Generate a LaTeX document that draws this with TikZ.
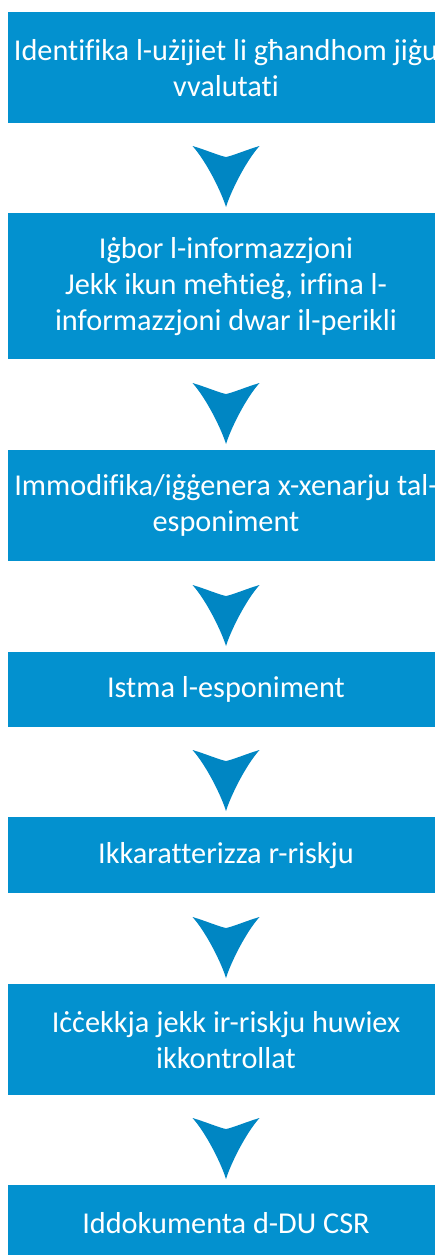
\documentclass[tikz,border=0pt]{standalone}
\usepackage{fontspec}
\setmainfont{Carlito}[Ligatures={NoCommon,NoContextual,NoDiscretionary}]
\definecolor{boxblue}{HTML}{0391CF}
\definecolor{arrblue}{HTML}{0086C3}
\tikzset{
  stepbox/.style={rectangle, fill=boxblue, text=white, minimum width=436pt,
    inner sep=0pt, align=center, font=\fontsize{30.3}{36}\selectfont, anchor=north},
  chev/.pic={
    \fill[arrblue] (0,0) .. controls (-5pt,16pt) and (-20pt,46pt) .. (-33.5pt,61pt)
      .. controls (-20pt,57pt) and (-6pt,51pt) .. (0,50pt)
      .. controls (6pt,51pt) and (20pt,57pt) .. (33.5pt,61pt)
      .. controls (20pt,46pt) and (5pt,16pt) .. (0,0) -- cycle;
  }
}
\begin{document}
\begin{tikzpicture}[x=1pt,y=-1pt]
\useasboundingbox (0,0) rectangle (434,1255);
\node[stepbox, minimum height=111pt] (b1) at (226,12) {Identifika l-użijiet li għandhom jiġu\\vvalutati};
\node[stepbox, minimum height=146pt] (b2) at (226,213) {Iġbor l-informazzjoni\\Jekk ikun meħtieġ, irfina l-\\informazzjoni dwar il-perikli};
\node[stepbox, minimum height=111pt] (b3) at (226,450) {Immodifika/iġġenera x-xenarju tal-\\esponiment};
\node[stepbox, minimum height=75pt] (b4) at (226,652) {Istma l-esponiment};
\node[stepbox, minimum height=76pt] (b5) at (226,817) {Ikkaratterizza r-riskju};
\node[stepbox, minimum height=111pt] (b6) at (226,984) {Iċċekkja jekk ir-riskju huwiex\\ikkontrollat};
\node[stepbox, minimum height=76pt] (b7) at (226,1185) {Iddokumenta d-DU CSR};
\foreach \n in {b2,b3,b4,b5,b6,b7}{
  \path ([yshift=6pt]\n.north) pic {chev};
}
\end{tikzpicture}
\end{document}
